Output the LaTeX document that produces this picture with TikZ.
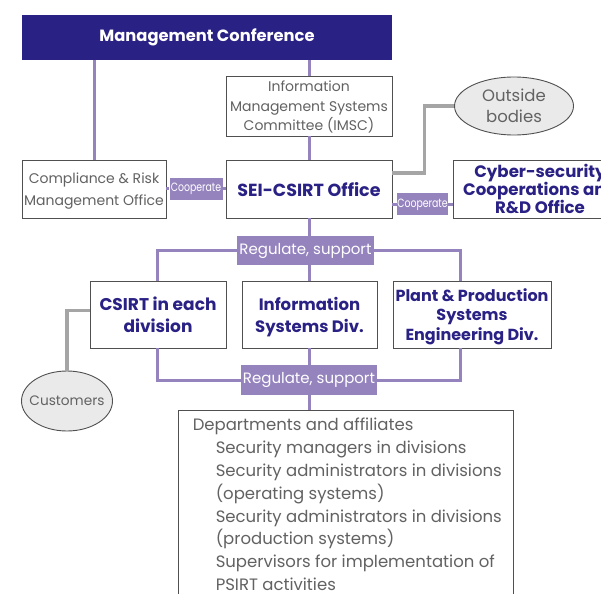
\documentclass[tikz,border=0pt]{standalone}
\usepackage{fontspec}
\setmainfont{Poppins}
\usepackage{tikz}
\usetikzlibrary{positioning,shapes.geometric,calc}
\usepackage{xcolor}

\definecolor{navy}{HTML}{2A2185}
\definecolor{lav}{HTML}{9583BE}
\definecolor{txtgray}{HTML}{626262}
\definecolor{edgegray}{HTML}{505050}
\definecolor{linkgray}{HTML}{A5A5A5}
\definecolor{ovalfill}{HTML}{EAEAEA}

\tikzset{
  box/.style={draw=edgegray, line width=0.9pt, fill=white, align=center, inner sep=1pt, text depth=0pt},
  plainbox/.style={box, text=txtgray, font=\fontsize{14}{19.5}\selectfont},
  boldbox/.style={box, text=navy, font=\fontsize{17}{19.5}\selectfont\bfseries},
  tag/.style={fill=lav, text=white, inner sep=0pt, font=\fontsize{15}{17}\selectfont},
  oval/.style={ellipse, draw=edgegray, line width=0.9pt, fill=ovalfill, text=txtgray,
    inner sep=0pt, align=center, font=\fontsize{16.5}{21}\selectfont},
  tie/.style={draw=lav, line width=3pt},
  link/.style={draw=linkgray, line width=3.5pt},
}
\newcommand{\coop}{\fontsize{12}{13}\selectfont\scalebox{0.78}[1]{Cooperate}}

\begin{document}
\begin{tikzpicture}[x=1pt, y=-1pt]
  \useasboundingbox (0,0) rectangle (601,593);
  \clip (0,0) rectangle (601,593);

  % Define coordinates for nodes
  \node[fill=navy, text=white, minimum width=370, minimum height=45,
    font=\fontsize{16.3}{18}\selectfont\bfseries] (mc) at (207,37.5) {Management Conference};
  \node[plainbox, minimum width=166, minimum height=60] (imsc) at (309,106)
    {Information\\Management Systems\\Committee (IMSC)};
  \node[oval, minimum width=119, minimum height=58] (outside) at (514,106) {Outside\\bodies};
  \node[plainbox, minimum width=144, minimum height=58, font=\fontsize{14}{22}\selectfont] (cro) at (94,189)
    {Compliance \& Risk\\Management Office};
  \node[boldbox, minimum width=166, minimum height=58, font=\fontsize{17.5}{19}\selectfont\bfseries] (sei) at (309,189) {SEI-CSIRT Office};
  \node[boldbox, minimum width=174, minimum height=58, font=\fontsize{16.6}{18}\selectfont\bfseries] (cyber) at (540,189)
    {Cyber-security\\Cooperations and\\R\&D Office};
  \node[tag, minimum width=53, minimum height=22] (coop1) at (196,189) {\coop};
  \node[tag, minimum width=51, minimum height=22] (coop2) at (422.5,204.5) {\coop};

  \node[tag, minimum width=137, minimum height=29] (reg1) at (305.5,250.5) {Regulate, support};
  \node[boldbox, minimum width=136, minimum height=67, font=\fontsize{17}{22}\selectfont\bfseries] (csirt) at (158,314.5) {CSIRT in each\\division};
  \node[boldbox, minimum width=135, minimum height=67, font=\fontsize{16.5}{22}\selectfont\bfseries] (isd) at (309.5,314.5) {Information\\Systems Div.};
  \node[boldbox, minimum width=158, minimum height=67, font=\fontsize{16}{19.5}\selectfont\bfseries] (plant) at (472,314.5)
    {Plant \& Production\\Systems\\Engineering Div.};
  \node[tag, minimum width=136, minimum height=30] (reg2) at (309,380) {Regulate, support};
  \node[oval, minimum width=91, minimum height=60, inner xsep=-12pt,
    font=\fontsize{13.7}{15}\selectfont] (cust) at (67,401) {Customers};

  \node[box, minimum width=335, minimum height=220, anchor=north] (dept) at (345.5,410) {};
  \node[anchor=north west, align=left, text=txtgray, inner sep=0pt,
    font=\fontsize{16.5}{22.8}\selectfont] (deptlist) at ([xshift=15pt, yshift=-8pt]dept.north west)
    {Departments and affiliates\\
     \hspace*{23pt}Security managers in divisions\\
     \hspace*{23pt}Security administrators in divisions\\
     \hspace*{23pt}(operating systems)\\
     \hspace*{23pt}Security administrators in divisions\\
     \hspace*{23pt}(production systems)\\
     \hspace*{23pt}Supervisors for implementation of\\
     \hspace*{23pt}PSIRT activities};

  % Draw lines between nodes
  \draw[tie] (mc.south -| cro.north) -- (cro.north);
  \draw[tie] (mc.south -| imsc.north) -- (imsc.north);
  \draw[tie] (imsc.south) -- (sei.north);
  \draw[tie] (cro.east) -- (coop1.west);
  \draw[tie] (coop1.east) -- (sei.west);
  \draw[tie] (coop2.west -| sei.east) -- (coop2.west);
  \draw[tie] (coop2.east) -- (coop2.east -| cyber.west);
  \draw[tie] (sei.south) -- (sei.south |- reg1.north);
  \draw[tie] (reg1.west) -| ([xshift=-1pt]csirt.north);
  \draw[tie] (reg1.east) -| ([xshift=-12pt]plant.north);
  \draw[tie] (reg1.south -| isd.north) -- (isd.north);
  \draw[tie] ([xshift=-1pt]csirt.south) |- (reg2.west);
  \draw[tie] ([xshift=-12pt]plant.south) |- (reg2.east);
  \draw[tie] (isd.south) -- (isd.south |- reg2.north);
  \draw[tie] (reg2.south) -- (reg2.south |- dept.north);
  \draw[link] ([yshift=16pt]sei.east) -- ++(32,0) |- (outside.west);
  \draw[link] ([yshift=4pt]csirt.west) -| (cust.north);
\end{tikzpicture}
\end{document}
